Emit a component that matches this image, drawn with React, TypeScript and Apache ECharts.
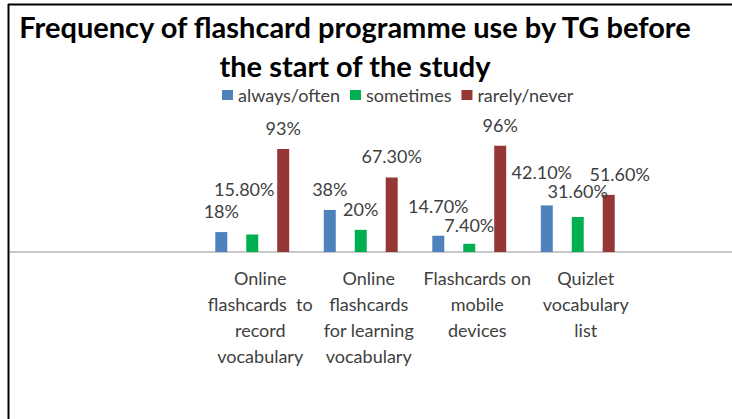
import React, { useEffect, useRef } from "react";
import * as echarts from "echarts";

const titleLines = [
  "Frequency of flashcard programme use by TG before",
  "the start of the study",
];
const categories = [
  "Online\nflashcards  to\nrecord\nvocabulary",
  "Online\nflashcards\nfor learning\nvocabulary",
  "Flashcards on\nmobile\ndevices",
  "Quizlet\nvocabulary\nlist",
];
const seriesNames = ["always/often", "sometimes", "rarely/never"];
const alwaysOften = [18, 38, 14.7, 42.1];
const sometimes = [15.8, 20, 7.4, 31.6];
const rarelyNever = [93, 67.3, 96, 51.6];
const alwaysLabels = ["18%", "38%", "14.70%", "42.10%"];
const sometimesLabels = ["15.80%", "20%", "7.40%", "31.60%"];
const rarelyLabels = ["93%", "67.30%", "96%", "51.60%"];
// manual label nudges as placed in the original
const alwaysOffsets = [[0, 0], [0, 0], [0, -9], [-5, -12]];
const sometimesOffsets = [[-8, -25], [0, 0], [0, 2], [0, -5]];
const rarelyOffsets = [[0, 0], [0, 0], [0, 0], [11, 0]];
const colors = ["#4F81BD", "#00B050", "#953735"];

const FONT = "Lato, 'Open Sans', sans-serif";

function build(values: number[], labels: string[], offsets: number[][]) {
  return values.map((v, i) => ({
    value: v,
    label: { formatter: labels[i], offset: offsets[i] },
  }));
}

export default function App() {
  const ref = useRef<HTMLDivElement>(null);
  useEffect(() => {
    if (!ref.current) return;
    const chart = echarts.init(ref.current, null, { renderer: "svg" });
    const seriesData = [
      build(alwaysOften, alwaysLabels, alwaysOffsets),
      build(sometimes, sometimesLabels, sometimesOffsets),
      build(rarelyNever, rarelyLabels, rarelyOffsets),
    ];
    const titleStyle = {
      fontFamily: FONT,
      fontWeight: "bold",
      fontSize: 29,
      lineHeight: 30,
      color: "#000000",
    };
    chart.setOption({
      animation: false,
      backgroundColor: "#ffffff",
      title: [
        {
          text: titleLines[0],
          left: 355,
          top: 11,
          padding: 0,
          textAlign: "center",
          textStyle: titleStyle,
        },
        {
          text: titleLines[1],
          left: 355,
          top: 50,
          padding: 0,
          textAlign: "center",
          textStyle: titleStyle,
        },
      ],
      legend: {
        data: seriesNames,
        left: 217,
        top: 81,
        itemWidth: 11,
        itemHeight: 10,
        itemGap: 10,
        icon: "rect",
        textStyle: {
          fontFamily: FONT,
          fontSize: 18,
          lineHeight: 18,
          color: "#404040",
        },
      },
      grid: { left: 198, right: 100, top: 141.3, bottom: 167 },
      xAxis: {
        type: "category",
        data: categories,
        axisLine: { show: false },
        axisTick: { show: false },
        axisLabel: {
          interval: 0,
          margin: 13,
          fontFamily: FONT,
          fontSize: 18,
          lineHeight: 26,
          color: "#404040",
          padding: [0, 0, 0, 16],
        },
      },
      yAxis: {
        type: "value",
        min: 0,
        max: 100,
        show: false,
        splitLine: { show: false },
      },
      series: seriesData.map((d, i) => ({
        name: seriesNames[i],
        type: "bar",
        data: d,
        barWidth: 12,
        barGap: "158%",
        itemStyle: { color: colors[i] },
        label: {
          show: true,
          position: "top",
          distance: 14,
          fontFamily: FONT,
          fontSize: 18,
          lineHeight: 14,
          color: "#404040",
        },
      })),
      graphic: [
        {
          type: "line",
          shape: { x1: 10, y1: 252, x2: 732, y2: 252 },
          style: { stroke: "#c8c8c8", lineWidth: 2 },
          z: 0,
        },
        {
          type: "line",
          shape: { x1: 8, y1: 4.5, x2: 732, y2: 4.5 },
          style: { stroke: "#000000", lineWidth: 2 },
        },
        {
          type: "line",
          shape: { x1: 8.5, y1: 4, x2: 8.5, y2: 419 },
          style: { stroke: "#000000", lineWidth: 2 },
        },
      ],
    });
    return () => chart.dispose();
  }, []);
  return (
    <div
      ref={ref}
      style={{ position: "absolute", left: 0, top: 0, width: 732, height: 419 }}
    />
  );
}
